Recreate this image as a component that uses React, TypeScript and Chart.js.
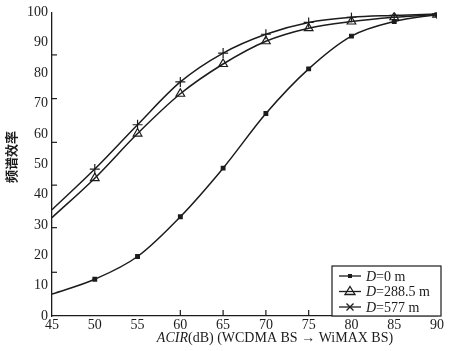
import React, { useEffect, useRef } from "react";
import { Chart, registerables } from "chart.js";

Chart.register(...registerables);

const acir = [45, 50, 55, 60, 65, 70, 75, 80, 85, 90];
const d0 = [7.2, 12.1, 19.6, 32.7, 48.7, 66.7, 81.4, 92.2, 97.0, 99.3];
const d288 = [32.4, 45.4, 60.1, 73.2, 83.0, 90.5, 94.8, 97.0, 98.4, 99.3];
const d577 = [35.0, 48.4, 63.0, 77.1, 86.6, 92.8, 96.7, 98.4, 99.0, 99.5];
const seriesNames = ["0 m", "288.5 m", "577 m"];
const yTickMarks = [14.4, 29.1, 43.1, 57.2, 71.6, 86.0];
const xTickMarks = [60, 65, 70, 75];
const yTitle = "频谱效率";

const INK = "#1c1c1c";
const SERIF = "'Liberation Serif', 'Times New Roman', serif";

const toPts = (arr: number[]) => arr.map((v, i) => ({ x: acir[i], y: v }));

const decor = {
  id: "decor",
  afterDraw(chart: any) {
    const ctx = chart.ctx;
    const xs = chart.scales.x;
    const ys = chart.scales.y;
    const area = chart.chartArea;
    ctx.save();
    ctx.strokeStyle = INK;
    ctx.fillStyle = INK;
    ctx.lineWidth = 1.2;
    // inward tick marks
    yTickMarks.forEach((v) => {
      const py = ys.getPixelForValue(v);
      ctx.beginPath();
      ctx.moveTo(area.left, py);
      ctx.lineTo(area.left + 5, py);
      ctx.stroke();
    });
    xTickMarks.forEach((v) => {
      const px = xs.getPixelForValue(v);
      ctx.beginPath();
      ctx.moveTo(px, area.bottom);
      ctx.lineTo(px, area.bottom - 6);
      ctx.stroke();
    });

    // x title
    ctx.textBaseline = "middle";
    const parts: [string, boolean][] = [
      ["ACIR", true],
      ["(dB) (WCDMA BS \u2192 WiMAX BS)", false],
    ];
    const fs = 14;
    let total = 0;
    parts.forEach(([t, it]) => {
      ctx.font = `${it ? "italic " : ""}${fs}px ${SERIF}`;
      total += ctx.measureText(t).width;
    });
    let tx = 275 - total / 2;
    const ty = 338;
    parts.forEach(([t, it]) => {
      ctx.font = `${it ? "italic " : ""}${fs}px ${SERIF}`;
      ctx.textAlign = "left";
      ctx.fillText(t, tx, ty);
      tx += ctx.measureText(t).width;
    });

    // y title
    ctx.save();
    ctx.translate(11, 157);
    ctx.rotate(-Math.PI / 2);
    ctx.font = `bold 13px 'Noto Sans CJK SC', sans-serif`;
    ctx.textAlign = "center";
    ctx.textBaseline = "middle";
    ctx.fillText(yTitle, 0, 0);
    ctx.restore();

    // legend box
    const bx = 332, by = 266, bw = 109, bh = area.bottom - 266;
    ctx.fillStyle = "#ffffff";
    ctx.fillRect(bx, by, bw, bh);
    ctx.strokeStyle = INK;
    ctx.lineWidth = 1.2;
    ctx.strokeRect(bx, by, bw, bh);
    const rows = [276, 291.5, 307];
    chart.data.datasets.forEach((ds: any, i: number) => {
      const ry = rows[i];
      ctx.strokeStyle = INK;
      ctx.lineWidth = 1.3;
      ctx.beginPath();
      ctx.moveTo(339, ry);
      ctx.lineTo(361, ry);
      ctx.stroke();
      const mx = 350;
      if (i === 0) {
        ctx.fillStyle = INK;
        ctx.fillRect(mx - 2, ry - 2, 4, 4);
      } else if (i === 1) {
        ctx.beginPath();
        ctx.moveTo(mx, ry - 5);
        ctx.lineTo(mx + 5, ry + 3);
        ctx.lineTo(mx - 5, ry + 3);
        ctx.closePath();
        ctx.stroke();
      } else {
        ctx.beginPath();
        ctx.moveTo(mx - 3.5, ry - 3.5);
        ctx.lineTo(mx + 3.5, ry + 3.5);
        ctx.moveTo(mx + 3.5, ry - 3.5);
        ctx.lineTo(mx - 3.5, ry + 3.5);
        ctx.stroke();
      }
      ctx.fillStyle = INK;
      ctx.textAlign = "left";
      ctx.textBaseline = "middle";
      ctx.font = `italic 14px ${SERIF}`;
      ctx.fillText("D", 366, ry + 1);
      const w = ctx.measureText("D").width;
      ctx.font = `14px ${SERIF}`;
      ctx.fillText("=" + seriesNames[i], 366 + w, ry + 1);
    });
    ctx.restore();
  },
};

export default function App() {
  const ref = useRef<HTMLCanvasElement | null>(null);
  useEffect(() => {
    if (!ref.current) return;
    const common = {
      borderColor: INK,
      borderWidth: 1.5,
      cubicInterpolationMode: "monotone" as const,
      fill: false,
      pointBorderColor: INK,
      pointBorderWidth: 1.2,
    };
    const chart = new Chart(ref.current, {
      type: "line",
      data: {
        datasets: [
          {
            ...common,
            label: "D=" + seriesNames[0],
            data: toPts(d0),
            pointStyle: "rect",
            pointRadius: acir.map((_, i) => (i === 0 ? 0 : 2.6)),
            pointBackgroundColor: INK,
          },
          {
            ...common,
            label: "D=" + seriesNames[1],
            data: toPts(d288),
            pointStyle: "triangle",
            pointRadius: acir.map((_, i) => (i === 0 ? 0 : 5)),
            pointBackgroundColor: "rgba(255,255,255,0)",
          },
          {
            ...common,
            label: "D=" + seriesNames[2],
            data: toPts(d577),
            pointStyle: "cross",
            pointRadius: acir.map((_, i) => (i === 0 ? 0 : 5)),
          },
        ],
      },
      options: {
        animation: false,
        responsive: false,
        maintainAspectRatio: false,
        layout: { padding: { top: 10, right: 13, left: 0, bottom: 0 } },
        plugins: { legend: { display: false }, tooltip: { enabled: false } },
        elements: { line: { clip: false } as any },
        scales: {
          x: {
            type: "linear",
            min: 45,
            max: 90,
            grid: { display: false, drawTicks: false },
            border: { display: true, color: INK, width: 1.3 },
            ticks: {
              stepSize: 5,
              autoSkip: false,
              padding: 1,
              color: INK,
              font: { family: SERIF, size: 14 },
            },
            afterFit: (s: any) => {
              s.height = 35;
            },
          },
          y: {
            type: "linear",
            min: 0,
            max: 100,
            grid: { display: false, drawTicks: false },
            border: { display: true, color: INK, width: 1.3 },
            ticks: {
              stepSize: 10,
              autoSkip: false,
              padding: 4,
              color: INK,
              font: { family: SERIF, size: 14 },
            },
            afterFit: (s: any) => {
              s.width = 52;
            },
          },
        },
      },
      plugins: [decor],
    });
    return () => chart.destroy();
  }, []);
  return (
    <div style={{ position: "fixed", left: 0, top: 0, width: 450, height: 351, background: "#fff" }}>
      <canvas ref={ref} width={450} height={351} style={{ width: 450, height: 351 }} />
    </div>
  );
}
